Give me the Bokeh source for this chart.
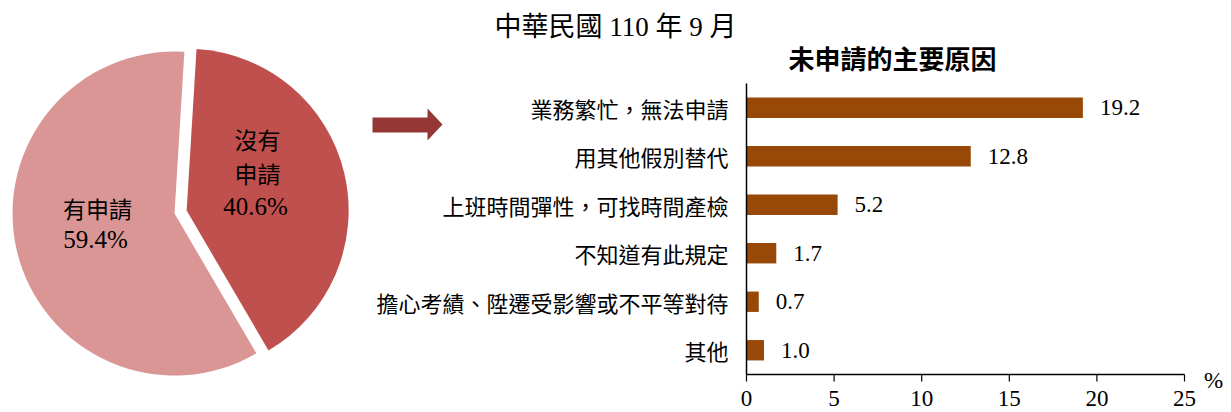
import math
from bokeh.plotting import figure
from bokeh.models import Range1d, ColumnDataSource
from bokeh.core.properties import value
from bokeh.embed import file_html
from bokeh.resources import INLINE

# ---------------- data ----------------
pie_labels = ["沒有申請", "有申請"]          # clockwise order from the top
pie_label_lines = [["沒有", "申請"], ["有申請"]]
pie_values = [40.6, 59.4]
pie_colors = ["#C0504D", "#D99694"]

reasons = ["業務繁忙，無法申請", "用其他假別替代", "上班時間彈性，可找時間產檢",
           "不知道有此規定", "擔心考績、陞遷受影響或不平等對待", "其他"]
reason_values = [19.2, 12.8, 5.2, 1.7, 0.7, 1.0]
x_ticks = [0, 5, 10, 15, 20, 25]

title_text = "中華民國 110 年 9 月"
bar_title = "未申請的主要原因"
unit_text = "%"

# ---------------- layout (window pixel positions) ----------------
CJK = "Noto Sans CJK TC"
SERIF = "Liberation Serif"
MIX = "Liberation Serif, Noto Sans CJK TC"

FW, FH = 1229, 410


def Y(wy):
    return 412 - wy


p = figure(frame_width=FW, frame_height=FH,
           x_range=Range1d(0, FW), y_range=Range1d(Y(FH), Y(0)),
           x_axis_location=None, y_axis_location=None,
           output_backend="svg", toolbar_location=None, min_border=0)
p.outline_line_color = None
p.grid.visible = False
p.background_fill_color = "white"
p.border_fill_color = "white"

# bar chart scales
AX0, AX25, AXIS_Y, CAT_TOP = 746, 1184, 374, 83
PX = (AX25 - AX0) / 25.0
UNIT_H = (AXIS_Y - CAT_TOP) / len(reasons)
p.extra_x_ranges = {"bx": Range1d((0 - AX0) / PX, (FW - AX0) / PX)}
p.extra_y_ranges = {"by": Range1d(-(FH - AXIS_Y) / UNIT_H, AXIS_Y / UNIT_H)}

# ---------------- pie ----------------
CX, CY, R = 174, 213, 162
START_DEG = 86.5
explode = [12.5, 0.0]
starts, ends, xs, ys = [], [], [], []
a = START_DEG
for v, ex in zip(pie_values, explode):
    e = a - v / 100.0 * 360.0
    mid = math.radians((a + e) / 2.0)
    starts.append(math.radians(a))
    ends.append(math.radians(e))
    xs.append(CX + ex * math.cos(mid))
    ys.append(Y(CY) + ex * math.sin(mid))
    a = e
pie_src = ColumnDataSource(dict(x=xs, y=ys, start=starts, end=ends, color=pie_colors, label=pie_labels))
p.wedge(x="x", y="y", radius=R, start_angle="start", end_angle="end", direction="clock",
        fill_color="color", line_color=None, source=pie_src)

# pie labels
label_pos = [((257, 138), (257, 172), (255, 206)), ((97, 207), (95, 239))]
for lines, v, pos in zip(pie_label_lines, pie_values, label_pos):
    for line, (wx, wy) in zip(lines, pos[:-1]):
        p.text(x=[wx], y=[Y(wy)], text=[line], text_font=value(CJK), text_font_size="23px",
               text_align="center", text_baseline="middle", text_color="black")
    wx, wy = pos[-1]
    p.text(x=[wx], y=[Y(wy)], text=[f"{v:.1f}%"], text_font=value(SERIF), text_font_size="25px",
           text_align="center", text_baseline="middle", text_color="black")

# arrow
arrow_x = [372, 427, 427, 442, 427, 427, 372]
arrow_y = [117, 117, 108, 124, 140, 132, 132]
p.patch(x=arrow_x, y=[Y(v) for v in arrow_y], fill_color="#953735", line_color=None)

# titles
p.text(x=[615], y=[Y(26)], text=[title_text], text_font=value(MIX), text_font_size="27px",
       text_align="center", text_baseline="middle", text_color="black")
p.text(x=[892], y=[Y(57)], text=[bar_title], text_font=value(CJK), text_font_size="26px",
       text_font_style="bold", text_align="center", text_baseline="middle", text_color="black")

# ---------------- bars ----------------
n = len(reasons)
bar_y = [n - i - 0.5 for i in range(n)]
bar_src = ColumnDataSource(dict(y=bar_y, v=reason_values, cat=reasons,
                                lab=[f"{v:.1f}" for v in reason_values]))
p.hbar(y="y", left=0, right="v", height=0.42, fill_color="#984807", line_color=None,
       source=bar_src, x_range_name="bx", y_range_name="by")
p.text(x="v", y="y", text="lab", x_offset=17, text_font=value(SERIF), text_font_size="23px",
       text_align="left", text_baseline="middle", text_color="black",
       source=bar_src, x_range_name="bx", y_range_name="by")
p.text(x=0, y="y", text="cat", x_offset=-18, text_font=value(CJK), text_font_size="22px",
       text_align="right", text_baseline="middle", text_color="black",
       source=bar_src, x_range_name="bx", y_range_name="by")

# axes (drawn on the bar scales)
p.segment(x0=[0], y0=[0], x1=[0], y1=[n], line_color="black", line_width=1.5,
          x_range_name="bx", y_range_name="by")
p.segment(x0=[x_ticks[0]], y0=[0], x1=[x_ticks[-1]], y1=[0], line_color="black", line_width=1.5,
          x_range_name="bx", y_range_name="by")
tick_len = 7.0 / UNIT_H
p.segment(x0=x_ticks, y0=[0] * len(x_ticks), x1=x_ticks, y1=[-tick_len] * len(x_ticks),
          line_color="black", line_width=1.2, x_range_name="bx", y_range_name="by")
p.text(x=x_ticks, y=[0] * len(x_ticks), text=[str(t) for t in x_ticks], y_offset=24,
       text_font=value(SERIF), text_font_size="23px", text_align="center", text_baseline="middle",
       text_color="black", x_range_name="bx", y_range_name="by")
p.text(x=[x_ticks[-1]], y=[0], text=[unit_text], x_offset=29, y_offset=6,
       text_font=value(SERIF), text_font_size="23px", text_align="center", text_baseline="middle",
       text_color="black", x_range_name="bx", y_range_name="by")

open("out.html", "w").write(file_html(p, INLINE))
